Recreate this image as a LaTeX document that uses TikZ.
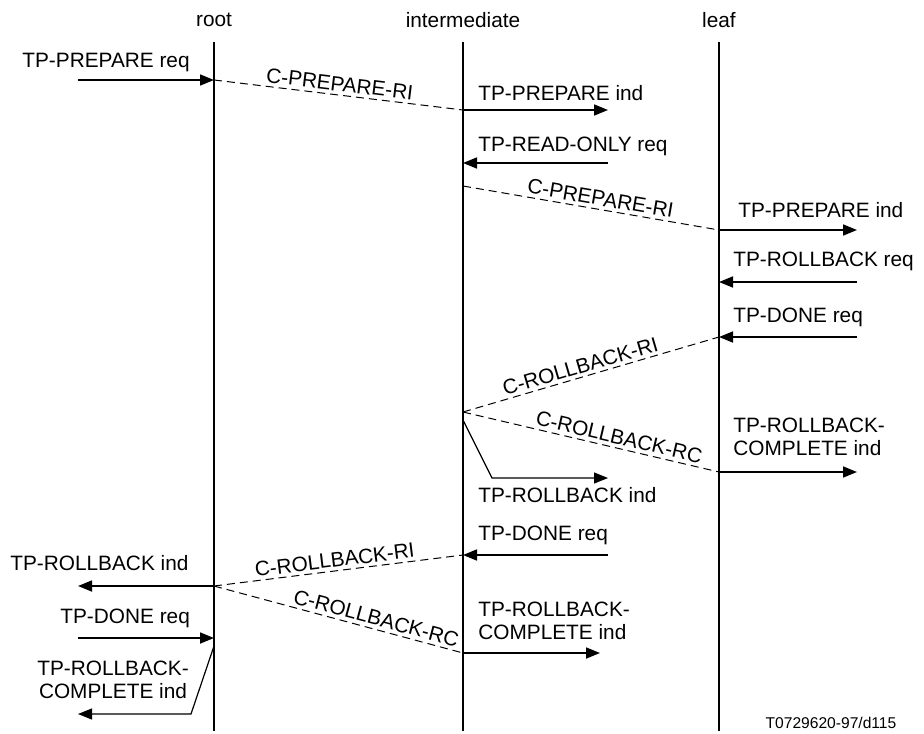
\documentclass[tikz,border=0pt]{standalone}
\usepackage{fontspec}
\setmainfont{Liberation Sans}
\usetikzlibrary{arrows.meta}
\begin{document}
\begin{tikzpicture}[x=0.5pt,y=-0.5pt,>={Triangle[length=7pt,width=5.5pt]},
  life/.style={line width=1pt},
  msg/.style={line width=0.85pt,->},
  prim/.style={line width=0.5pt,dash pattern=on 4pt off 2.5pt},
  turn/.style={line width=0.6pt,->},
  lbl/.style={font=\fontsize{10.4}{11.5}\selectfont,inner sep=0pt,anchor=west,align=left},
  plbl/.style={font=\fontsize{10.4}{11.5}\selectfont,inner sep=1.6pt,sloped,above}]
  \useasboundingbox (0,0) rectangle (924,733);
  % heads and life lines
  \node[lbl,anchor=center] (root) at (214,20) {root};
  \node[lbl,anchor=center] (inter) at (463,20) {intermediate};
  \node[lbl,anchor=center] (leaf) at (719,20) {leaf};
  \coordinate (rtop) at (214,42); \coordinate (rbot) at (214,731);
  \coordinate (itop) at (463,42); \coordinate (ibot) at (463,731);
  \coordinate (ltop) at (719,42); \coordinate (lbot) at (719,731);
  \draw[life] (rtop) -- (rbot);
  \draw[life] (itop) -- (ibot);
  \draw[life] (ltop) -- (lbot);
  % prepare phase
  \coordinate (pa) at (78,80);   \coordinate (pr) at (214,80);
  \coordinate (pi) at (463,110); \coordinate (pie) at (608,110);
  \coordinate (roi) at (463,163); \coordinate (ros) at (608,163);
  \coordinate (pi2) at (463,186); \coordinate (pl) at (719,230);
  \coordinate (ple) at (857,230);
  \draw[msg] (pa) -- (pr);
  \node[lbl] (prepreq) at (22,63) {TP-PREPARE req};
  \draw[prim] (pr) -- node[plbl] (cprep1) {C-PREPARE-RI} (pi);
  \draw[msg] (pi) -- (pie);
  \node[lbl] (prepind1) at (478,93) {TP-PREPARE ind};
  \draw[msg] (ros) -- (roi);
  \node[lbl] (roreq) at (478,146) {TP-READ-ONLY req};
  \draw[prim] (pi2) -- node[plbl,pos=0.53] (cprep2) {C-PREPARE-RI} (pl);
  \draw[msg] (pl) -- (ple);
  \node[lbl] (prepind2) at (738,210) {TP-PREPARE ind};
  % rollback at the leaf
  \coordinate (rbs) at (857,282); \coordinate (rbl) at (719,282);
  \coordinate (dns) at (857,337); \coordinate (dnl) at (719,337);
  \coordinate (ix) at (463,412);  \coordinate (rcl) at (719,472);
  \coordinate (rce) at (857,472);
  \draw[msg] (rbs) -- (rbl);
  \node[lbl] (rbreq) at (733,261) {TP-ROLLBACK req};
  \draw[msg] (dns) -- (dnl);
  \node[lbl] (donereq1) at (733,317) {TP-DONE req};
  \draw[prim] (ix) -- node[plbl,pos=0.47] (crbri1) {C-ROLLBACK-RI} (dnl);
  \draw[prim] (ix) -- node[plbl,pos=0.6] (crbrc1) {C-ROLLBACK-RC} (rcl);
  \draw[msg] (rcl) -- (rce);
  \node[lbl] (rbcind1) at (733,437) {TP-ROLLBACK-\\COMPLETE ind};
  \coordinate (t1) at (463,420); \coordinate (t2) at (492,478);
  \coordinate (t3) at (608,478);
  \draw[turn] (t1) -- (t2) -- (t3);
  \node[lbl] (rbind1) at (478,495) {TP-ROLLBACK ind};
  % rollback at the intermediate
  \coordinate (dis) at (608,555); \coordinate (dni) at (463,555);
  \coordinate (rx) at (214,586);  \coordinate (rxe) at (78,586);
  \coordinate (rci) at (463,653); \coordinate (rcie) at (600,653);
  \draw[msg] (dis) -- (dni);
  \node[lbl] (donereq2) at (478,535) {TP-DONE req};
  \draw[prim] (rx) -- node[plbl,pos=0.49] (crbri2) {C-ROLLBACK-RI} (dni);
  \draw[prim] (rx) -- node[plbl,pos=0.64] (crbrc2) {C-ROLLBACK-RC} (rci);
  \draw[msg] (rx) -- (rxe);
  \node[lbl] (rbind2) at (10,563) {TP-ROLLBACK ind};
  \draw[msg] (rci) -- (rcie);
  \node[lbl] (rbcind2) at (478,621) {TP-ROLLBACK-\\COMPLETE ind};
  % root side
  \coordinate (dra) at (78,638); \coordinate (drr) at (214,638);
  \coordinate (u1) at (214,646); \coordinate (u2) at (191,714);
  \coordinate (u3) at (78,714);
  \draw[msg] (dra) -- (drr);
  \node[lbl] (donereq3) at (60,618) {TP-DONE req};
  \draw[turn] (u1) -- (u2) -- (u3);
  \node[lbl,anchor=center,align=center] (rbcind3) at (113,680) {TP-ROLLBACK-\\COMPLETE ind};
  \node[font=\fontsize{7.8}{9}\selectfont,inner sep=0pt] (fig) at (831,723) {T0729620-97/d115};
\end{tikzpicture}
\end{document}
